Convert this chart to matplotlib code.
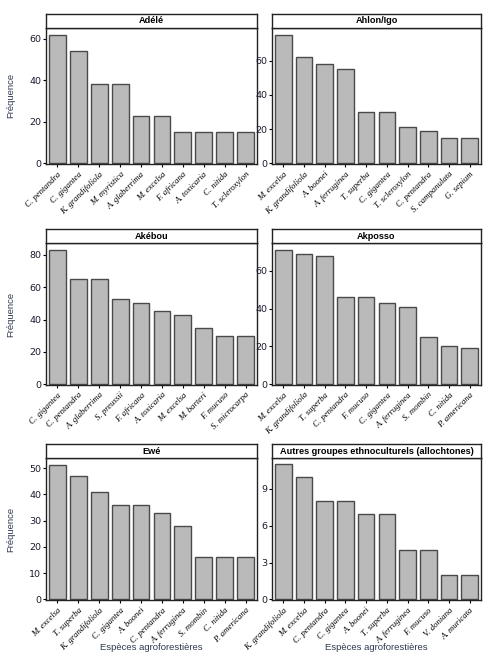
import matplotlib
matplotlib.use("Agg")
import matplotlib.pyplot as plt

W, H = 488, 665

adele_species = ["C. pentandra", "C. gigantea", "K. grandifoliola", "M. myristica", "A. glaberrima",
                 "M. excelsa", "F. africana", "A. toxicaria", "C. nitida", "T. scleroxylon"]
adele_freq = [62, 54, 38, 38, 23, 23, 15, 15, 15, 15]

ahlon_species = ["M. excelsa", "K. grandifoliola", "A. boonei", "A. ferruginea", "T. superba",
                 "C. gigantea", "T. scleroxylon", "C. pentandra", "S. campanulata", "G. sepium"]
ahlon_freq = [75, 62, 58, 55, 30, 30, 21, 19, 15, 15]

akebou_species = ["C. gigantea", "C. pentandra", "A. glaberrima", "S. preussii", "F. africana",
                  "A. toxicaria", "M. excelsa", "M. barteri", "F. mucuso", "S. microcarpa"]
akebou_freq = [83, 65, 65, 53, 50, 45, 43, 35, 30, 30]

akposso_species = ["M. excelsa", "K. grandifoliola", "T. superba", "C. pentandra", "F. mucuso",
                   "C. gigantea", "A. ferruginea", "S. mombin", "C. nitida", "P. americana"]
akposso_freq = [71, 69, 68, 46, 46, 43, 41, 25, 20, 19]

ewe_species = ["M. excelsa", "T. superba", "K. grandifoliola", "C. gigantea", "A. boonei",
               "C. pentandra", "A. ferruginea", "S. mombin", "C. nitida", "P. americana"]
ewe_freq = [51, 47, 41, 36, 36, 33, 28, 16, 16, 16]

autres_species = ["K. grandifoliola", "M. excelsa", "C. pentandra", "C. gigantea", "A. boonei",
                  "T. superba", "A. ferruginea", "F. mucuso", "V. doniana", "A. muricata"]
autres_freq = [11, 10, 8, 8, 7, 7, 4, 4, 2, 2]

panels = [
    ("Adélé", adele_species, adele_freq, [0, 20, 40, 60], 65.3),
    ("Ahlon/Igo", ahlon_species, ahlon_freq, [0, 20, 40, 60], 79.2),
    ("Akébou", akebou_species, akebou_freq, [0, 20, 40, 60, 80], 87.2),
    ("Akposso", akposso_species, akposso_freq, [0, 20, 40, 60], 74.6),
    ("Ewé", ewe_species, ewe_freq, [0, 10, 20, 30, 40, 50], 53.7),
    ("Autres groupes ethnoculturels (allochtones)", autres_species, autres_freq, [0, 3, 6, 9], 11.5),
]

# pixel boxes: (strip top, strip bottom, axes bottom)
rows = [(14, 27.7, 164), (229, 243.3, 384.7), (444.3, 458.3, 600)]
cols = [(46, 257), (272, 481)]

label_color = "#2f3a52"

fig = plt.figure(figsize=(W / 100, H / 100), dpi=100)


def box(x0, x1, top, bottom):
    return [x0 / W, 1 - bottom / H, (x1 - x0) / W, (bottom - top) / H]


for i, (title, species, freq, yticks, ytop) in enumerate(panels):
    r, c = divmod(i, 2)
    st, sb, ab = rows[r]
    x0, x1 = cols[c]

    ax = fig.add_axes(box(x0, x1, sb, ab))
    ax.bar(range(len(freq)), freq, width=0.8, color="#bababa", edgecolor="#4a4a4a", linewidth=1)
    ax.set_xlim(-0.55, len(freq) - 0.45)
    ax.set_ylim(-0.004 * ytop, ytop)
    ax.set_yticks(yticks)
    ax.set_xticks(range(len(freq)))
    ax.set_xticklabels(species, rotation=45, ha="right", rotation_mode="anchor",
                       fontfamily="Liberation Serif", fontstyle="italic", fontsize=6.3)
    ax.tick_params(axis="y", labelsize=6.8, length=2.5, pad=1, labelcolor="#1a1a2e")
    ax.tick_params(axis="x", length=2.5, pad=2)
    for s in ax.spines.values():
        s.set_linewidth(1)
        s.set_color("#222222")

    sax = fig.add_axes(box(x0, x1, st, sb))
    sax.set_xticks([])
    sax.set_yticks([])
    for s in sax.spines.values():
        s.set_linewidth(1)
        s.set_color("#222222")
    sax.text(0.5, 0.5, title, ha="center", va="center", fontsize=6.6, fontweight="bold",
             fontfamily="Liberation Sans", transform=sax.transAxes)

    if c == 0:
        fig.text(11 / W, 1 - ((sb + ab) / 2) / H, "Fréquence", rotation=90, ha="center", va="center",
                 fontsize=6.8, color=label_color, fontfamily="Liberation Sans")
    if r == 2:
        fig.text(((x0 + x1) / 2) / W, 1 - 648 / H, "Espèces agroforestières", ha="center", va="center",
                 fontsize=6.8, color=label_color, fontfamily="Liberation Sans")

fig.savefig("out.png", dpi=100)
